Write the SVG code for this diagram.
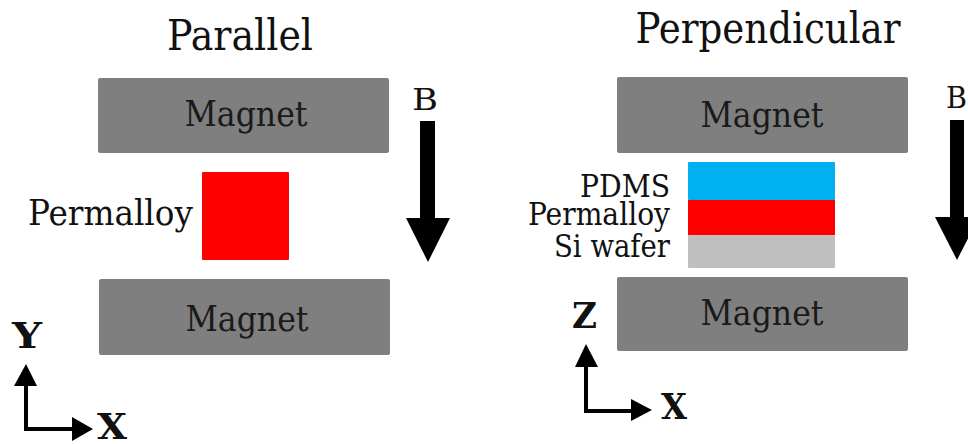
<svg xmlns="http://www.w3.org/2000/svg" width="968" height="444" viewBox="0 0 968 444">
  <style>
    text { font-family: 'DejaVu Serif', 'Liberation Serif', serif; font-stretch: condensed; fill: #111; }
    .title { font-size: 42px; text-anchor: middle; }
    .mag { fill: #7f7f7f; }
    .maglbl { font-size: 36px; text-anchor: middle; fill: #1a1a1a; }
    .lbl { font-size: 31px; text-anchor: end; }
    .b { font-size: 29px; }
    .axis { font-size: 35px; font-weight: bold; }
    .axline { fill: none; stroke: #000; stroke-width: 4; }
    .arrowfill { fill: #000; }
  </style>

  <!-- Parallel configuration -->
  <text class="title" x="240" y="50" textLength="146" lengthAdjust="spacingAndGlyphs">Parallel</text>

  <g id="magnet-top-left">
    <rect class="mag" x="98" y="78" width="291" height="75" rx="2"/>
    <text class="maglbl" x="246" y="126" textLength="123" lengthAdjust="spacingAndGlyphs">Magnet</text>
  </g>
  <g id="permalloy-left">
    <rect x="202" y="172" width="87" height="88" fill="#ff0000" rx="1"/>
    <text x="193" y="225" font-size="36" text-anchor="end" textLength="165" lengthAdjust="spacingAndGlyphs">Permalloy</text>
  </g>
  <g id="magnet-bottom-left">
    <rect class="mag" x="99" y="279" width="291" height="76" rx="2"/>
    <text class="maglbl" x="247" y="331" textLength="123" lengthAdjust="spacingAndGlyphs">Magnet</text>
  </g>
  <g id="field-left">
    <text class="b" x="412" y="110" textLength="26" lengthAdjust="spacingAndGlyphs">B</text>
    <rect class="arrowfill" x="420" y="121" width="15" height="98"/>
    <polygon class="arrowfill" points="406,218 450,218 428,262"/>
  </g>
  <g id="axes-left">
    <text class="axis" x="12" y="348" textLength="30" lengthAdjust="spacingAndGlyphs">Y</text>
    <polyline class="axline" points="26,384 26,429 74,429"/>
    <polygon class="arrowfill" points="26,364 14,386 37,386"/>
    <polygon class="arrowfill" points="93,429 72,417 72,441"/>
    <text class="axis" x="97" y="439" textLength="30" lengthAdjust="spacingAndGlyphs">X</text>
  </g>

  <!-- Perpendicular configuration -->
  <text class="title" x="768" y="43" textLength="265" lengthAdjust="spacingAndGlyphs">Perpendicular</text>

  <g id="magnet-top-right">
    <rect class="mag" x="617" y="77" width="291" height="76" rx="2"/>
    <text class="maglbl" x="762" y="127" textLength="123" lengthAdjust="spacingAndGlyphs">Magnet</text>
  </g>
  <g id="stack">
    <rect x="688" y="162" width="147" height="38" fill="#00b0f0" rx="1"/>
    <rect x="688" y="200" width="147" height="35" fill="#ff0000"/>
    <rect x="688" y="235" width="147" height="33" fill="#bfbfbf" rx="1"/>
    <text class="lbl" x="670" y="197" textLength="90" lengthAdjust="spacingAndGlyphs">PDMS</text>
    <text class="lbl" x="670" y="225" textLength="142" lengthAdjust="spacingAndGlyphs">Permalloy</text>
    <text class="lbl" x="670" y="257" textLength="116" lengthAdjust="spacingAndGlyphs">Si wafer</text>
  </g>
  <g id="magnet-bottom-right">
    <rect class="mag" x="617" y="277" width="291" height="74" rx="2"/>
    <text class="maglbl" x="762" y="325" textLength="123" lengthAdjust="spacingAndGlyphs">Magnet</text>
  </g>
  <g id="field-right">
    <text class="b" x="946" y="108" textLength="21" lengthAdjust="spacingAndGlyphs">B</text>
    <rect class="arrowfill" x="950" y="120" width="14" height="98"/>
    <polygon class="arrowfill" points="935,217 979,217 957,260"/>
  </g>
  <g id="axes-right">
    <text class="axis" x="572" y="328" textLength="25" lengthAdjust="spacingAndGlyphs">Z</text>
    <polyline class="axline" points="586,366 586,411 633,411"/>
    <polygon class="arrowfill" points="586,344 575,367 598,367"/>
    <polygon class="arrowfill" points="652,410 631,399 631,421"/>
    <text class="axis" x="661" y="419" textLength="26" lengthAdjust="spacingAndGlyphs">X</text>
  </g>
</svg>
